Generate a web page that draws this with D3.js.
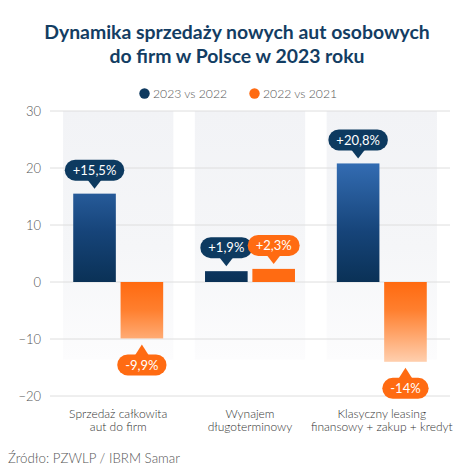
<!DOCTYPE html>
<html><head><meta charset="utf-8">
<script src="https://cdn.jsdelivr.net/npm/d3@7"></script>
<style>body{margin:0;background:#fff} svg{display:block;font-family:Lato, "Noto Sans", sans-serif}</style>
</head><body><svg id="c" width="474" height="474"></svg>
<script>
const categories = [["Sprzedaż całkowita","aut do firm"],["Wynajem","długoterminowy"],["Klasyczny leasing","finansowy + zakup + kredyt"]];
const seriesNames = ["2023 vs 2022","2022 vs 2021"];
const values2023 = [15.5, 1.9, 20.8];
const values2022 = [-9.9, 2.3, -14];
const labels2023 = ["+15,5%","+1,9%","+20,8%"];
const labels2022 = ["-9,9%","+2,3%","-14%"];
const yTicks = [30,20,10,0,-10,-20];
const titleLines = ["Dynamika sprzedaży nowych aut osobowych","do firm w Polsce w 2023 roku"];
const sourceText = "Źródło: PZWLP / IBRM Samar";

const NAVY = "#0f3a60", ORANGE = "#ff6b12";
const svg = d3.select("#c");
const defs = svg.append("defs");

const y = d3.scaleLinear().domain([-20,30]).range([396,111]);
const x = d3.scaleBand().domain(d3.range(categories.length)).range([50,450]).paddingInner(0.163).paddingOuter(0.099);
const xi = d3.scaleBand().domain([0,1]).range([0,x.bandwidth()]).paddingInner(0.1).paddingOuter(0.215);

// gradients
const gBand = defs.append("linearGradient").attr("id","gBand").attr("x1",0).attr("x2",0).attr("y1",0).attr("y2",1);
gBand.append("stop").attr("offset",0).attr("stop-color","#f2f3f6");
gBand.append("stop").attr("offset",0.55).attr("stop-color","#f5f6f8");
gBand.append("stop").attr("offset",1).attr("stop-color","#fcfcfd");

const gBlue = defs.append("linearGradient").attr("id","gBlue").attr("gradientUnits","userSpaceOnUse")
  .attr("x1",0).attr("x2",0).attr("y1",y(0)).attr("y2",y(22));
gBlue.append("stop").attr("offset",0).attr("stop-color","#0a3156");
gBlue.append("stop").attr("offset",0.4).attr("stop-color","#164479");
gBlue.append("stop").attr("offset",1).attr("stop-color","#3670b8");

const gOr = defs.append("linearGradient").attr("id","gOr").attr("gradientUnits","userSpaceOnUse")
  .attr("x1",0).attr("x2",0).attr("y1",y(0)).attr("y2",y(-14));
gOr.append("stop").attr("offset",0).attr("stop-color","#ff6a10");
gOr.append("stop").attr("offset",0.35).attr("stop-color","#ff7f2e");
gOr.append("stop").attr("offset",1).attr("stop-color","#ffcfae");

// title
svg.append("g").selectAll("text").data(titleLines).join("text")
  .attr("x",237).attr("y",(d,i)=>39+i*24).attr("text-anchor","middle")
  .attr("font-size",19.4).attr("font-weight",700).attr("fill","#133d63").text(d=>d);

// legend
const leg = [{n:seriesNames[0],c:NAVY,x:144.5},{n:seriesNames[1],c:ORANGE,x:254.5}];
const lg = svg.append("g").selectAll("g").data(leg).join("g");
lg.append("circle").attr("cx",d=>d.x).attr("cy",93.5).attr("r",5.2).attr("fill",d=>d.c);
lg.append("text").attr("x",d=>d.x+8.5).attr("y",98).attr("font-size",12.2).attr("font-weight",300).attr("fill","#555").text(d=>d.n);

// bands
svg.append("g").selectAll("rect").data(categories).join("rect")
  .attr("x",(d,i)=>x(i)).attr("width",x.bandwidth())
  .attr("y",y(30)).attr("height",y(-13.6)-y(30)).attr("fill","url(#gBand)");

// grid
svg.append("g").selectAll("line").data(yTicks).join("line")
  .attr("x1",50).attr("x2",450).attr("y1",d=>y(d)).attr("y2",d=>y(d))
  .attr("stroke","#dedede").attr("stroke-width",1);

// axis
const ax = svg.append("g").attr("transform","translate(50,0)")
  .call(d3.axisLeft(y).tickValues(yTicks).tickSize(0).tickPadding(9));
ax.select(".domain").remove();
ax.selectAll("text").attr("font-size",13).attr("font-weight",300).attr("fill","#555").attr("font-family","Lato, sans-serif");

// bars
const series = [values2023, values2022];
const fills = ["url(#gBlue)","url(#gOr)"];
const barData = [];
categories.forEach((c,i)=>{
  series.forEach((s,j)=>{
    barData.push({i,j,v:s[i],lab:(j===0?labels2023:labels2022)[i]});
  });
});
svg.append("g").selectAll("rect").data(barData).join("rect")
  .attr("x",d=>x(d.i)+xi(d.j)).attr("width",xi.bandwidth())
  .attr("y",d=>y(Math.max(0,d.v))).attr("height",d=>Math.abs(y(d.v)-y(0)))
  .attr("fill",d=>(d.j===1 && d.v>0)?ORANGE:fills[d.j]);

// bubbles
const bg = svg.append("g");
barData.forEach(d=>{
  const cx = x(d.i)+xi(d.j)+xi.bandwidth()/2;
  const col = d.j===0?"#0d3a60":ORANGE;
  const g = bg.append("g");
  const t = g.append("text").attr("font-size",13).attr("fill","#fff").attr("text-anchor","middle").text(d.lab);
  const tw = t.node().getComputedTextLength();
  const w = tw+16, h = 21, r = 10.5;
  let tip, bodyTop, ph;
  if (d.v >= 0) { ph = 8; tip = y(d.v)-5; bodyTop = tip-ph-h; }
  else { ph = 10; tip = y(d.v)+6; bodyTop = tip+ph; }
  g.insert("rect","text").attr("x",cx-w/2).attr("y",bodyTop).attr("width",w).attr("height",h).attr("rx",r).attr("fill",col);
  const pts = d.v>=0
    ? [[cx-7,bodyTop+h-1],[cx+7,bodyTop+h-1],[cx,tip]]
    : [[cx-7,bodyTop+1],[cx+7,bodyTop+1],[cx,tip]];
  g.insert("path","text").attr("d",d3.line()(pts)+"Z").attr("fill",col);
  t.attr("x",cx).attr("y",bodyTop+h/2+4.6);
});

// category labels (one text per line)
const lines = [];
categories.forEach((c,i)=>c.forEach((s,k)=>lines.push({i,k,s})));
svg.append("g").selectAll("text").data(lines).join("text")
  .attr("text-anchor","middle").attr("font-size",12).attr("font-weight",300).attr("fill","#333")
  .attr("x",d=>x(d.i)+x.bandwidth()/2).attr("y",d=>417.5+d.k*13.5).text(d=>d.s);

// source
svg.append("text").attr("x",8).attr("y",463).attr("font-size",13.3).attr("font-weight",300).attr("fill","#555").text(sourceText);
</script></body></html>
